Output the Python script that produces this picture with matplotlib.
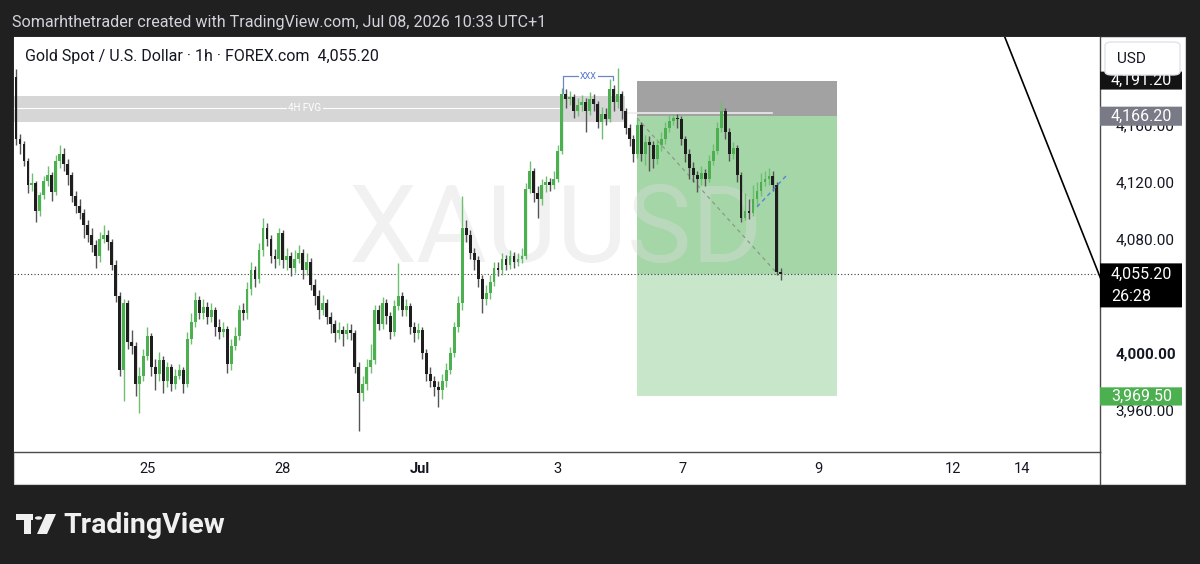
# XAUUSD 1h chart (TradingView snapshot look)

import numpy as np
import matplotlib.pyplot as plt
import matplotlib.transforms as mtransforms
from matplotlib.patches import Rectangle, FancyBboxPatch, Polygon, Circle
from matplotlib.lines import Line2D

plt.rcParams['font.family'] = ['Roboto', 'DejaVu Sans']

# ==============================
# DATA
# ==============================

first_open = 4194.0

closes = [
    4150, 4147, 4135, 4118, 4119, 4100, 4111, 4121, 4125, 4113,
    4135, 4140, 4133, 4125, 4110, 4103, 4098, 4090, 4083, 4076,
    4068, 4080, 4083, 4078, 4062, 4040, 3988, 4035, 4008, 4005,
    3978, 3984, 3998, 4012, 3990, 3985, 3995, 3980, 3990, 3978,
    3984, 3988, 3978, 4010, 4022, 4037, 4028, 4032, 4025, 4030,
    4018, 4015, 4017, 3992, 4005, 4012, 4030, 4028, 4045, 4058,
    4052, 4072, 4088, 4080, 4068, 4066, 4084, 4065, 4068, 4060,
    4066, 4070, 4058, 4064, 4048, 4040, 4030, 4035, 4025, 4020,
    4014, 4016, 4013, 4016, 4014, 3990, 3972, 3978, 3990, 3995,
    4030, 4020, 4035, 4026, 4015, 4033, 4040, 4030, 4033, 4018,
    4014, 4016, 4000, 3985, 3980, 3976, 3974, 3980, 3988, 4000,
    4018, 4035, 4088, 4083, 4070, 4065, 4052, 4038, 4042, 4050,
    4060, 4058, 4066, 4062, 4068, 4064, 4066, 4068, 4115, 4128,
    4112, 4108, 4118, 4120, 4118, 4122, 4142, 4182, 4178, 4180,
    4170, 4174, 4176, 4170, 4178, 4175, 4162, 4168, 4164, 4185,
    4176, 4182, 4170, 4158, 4150, 4140, 4160, 4140, 4148, 4146,
    4136, 4146, 4150, 4158, 4163, 4165, 4164, 4150, 4140, 4130,
    4125, 4122, 4126, 4122, 4135, 4142, 4158, 4170, 4155, 4140,
    4144, 4125, 4095, 4100, 4098, 4108, 4114, 4120, 4122, 4124,
    4118, 4057, 4055.2,
]

highs = [
    4199, 4154, 4149, 4137, 4126, 4121, 4113, 4124, 4131, 4127,
    4139, 4146, 4144, 4136, 4127, 4114, 4108, 4101, 4093, 4088,
    4079, 4085, 4090, 4086, 4080, 4065, 4043, 4038, 4037, 4016,
    4008, 3990, 4003, 4018, 4014, 3996, 4001, 3998, 3994, 3992,
    3989, 3992, 3990, 4015, 4028, 4043, 4040, 4038, 4036, 4035,
    4032, 4024, 4022, 4019, 4010, 4018, 4034, 4035, 4050, 4064,
    4061, 4077, 4095, 4091, 4083, 4073, 4088, 4086, 4074, 4071,
    4072, 4076, 4073, 4070, 4067, 4052, 4044, 4041, 4038, 4029,
    4023, 4022, 4019, 4021, 4020, 4016, 3994, 3984, 3996, 4006,
    4034, 4034, 4039, 4038, 4029, 4037, 4063, 4043, 4038, 4035,
    4022, 4021, 4018, 4003, 3990, 3984, 3980, 3985, 3993, 4004,
    4022, 4040, 4110, 4093, 4086, 4074, 4068, 4055, 4048, 4055,
    4064, 4064, 4070, 4069, 4072, 4071, 4070, 4074, 4119, 4135,
    4130, 4117, 4122, 4124, 4123, 4128, 4146, 4186, 4185, 4184,
    4182, 4179, 4181, 4179, 4183, 4182, 4177, 4173, 4172, 4192,
    4188, 4200, 4184, 4172, 4161, 4153, 4164, 4162, 4153, 4152,
    4149, 4150, 4155, 4162, 4167, 4168, 4168, 4166, 4152, 4143,
    4134, 4128, 4131, 4129, 4139, 4147, 4162, 4177, 4172, 4158,
    4148, 4146, 4127, 4112, 4108, 4118, 4120, 4126, 4128, 4130,
    4128, 4120, 4060,
]

lows = [
    4146, 4140, 4131, 4112, 4114, 4092, 4096, 4108, 4117, 4107,
    4111, 4130, 4128, 4118, 4106, 4098, 4094, 4081, 4078, 4071,
    4060, 4064, 4077, 4072, 4058, 4036, 3984, 3966, 4003, 3999,
    3970, 3958, 3980, 3995, 3984, 3974, 3980, 3972, 3976, 3973,
    3975, 3982, 3972, 3976, 4006, 4018, 4024, 4024, 4020, 4022,
    4012, 4010, 4011, 3986, 3988, 4002, 4009, 4023, 4024, 4041,
    4046, 4049, 4068, 4075, 4063, 4060, 4062, 4060, 4058, 4054,
    4056, 4063, 4052, 4055, 4044, 4034, 4024, 4027, 4020, 4014,
    4008, 4010, 4005, 4010, 4009, 3986, 3945, 3966, 3974, 3986,
    3992, 4016, 4017, 4020, 4010, 4012, 4030, 4026, 4026, 4013,
    4008, 4010, 3996, 3980, 3976, 3970, 3962, 3968, 3976, 3985,
    3997, 4015, 4030, 4078, 4066, 4058, 4046, 4028, 4034, 4038,
    4047, 4054, 4055, 4058, 4059, 4060, 4061, 4063, 4066, 4112,
    4106, 4095, 4104, 4113, 4114, 4115, 4120, 4140, 4172, 4174,
    4165, 4166, 4170, 4155, 4167, 4170, 4158, 4150, 4160, 4162,
    4170, 4172, 4164, 4154, 4145, 4134, 4137, 4135, 4132, 4128,
    4130, 4133, 4142, 4147, 4155, 4160, 4158, 4146, 4134, 4122,
    4120, 4113, 4118, 4117, 4120, 4132, 4140, 4155, 4150, 4135,
    4136, 4120, 4092, 4093, 4094, 4096, 4104, 4110, 4117, 4118,
    4114, 4055, 4051,
]

opens = [first_open] + closes[:-1]

date_pos = [32.9, 66.8, 101.4, 135.8, 167.2, 201.3, 235.2, 252.5]
date_labels = ["25", "28", "Jul", "3", "7", "9", "12", "14"]
price_ticks = [3960, 4000, 4080, 4120, 4160]

last_price = 4055.2
countdown = "26:28"
stop_price = 4191.2
entry_price = 4166.2
target_price = 3969.5
fvg_top, fvg_mid, fvg_bottom = 4180.4, 4172.0, 4162.1

# ==============================
# FIGURE
# ==============================

W, H = 1200, 564
BG = '#202020'
TXT = '#131722'
GREEN = '#4caf50'
DOWN = '#1e1e1e'

fig = plt.figure(figsize=(W / 100, H / 100), dpi=100, facecolor=BG)


def fx(x):
    return x / W


def fy(y):
    return 1 - y / H


# white chart panel (chart + price scale + time scale)
fig.patches.append(Rectangle((fx(14), fy(484)), (1185 - 14) / W, (484 - 37) / H,
                             transform=fig.transFigure, facecolor='white',
                             edgecolor='#cfcfcf', lw=0.8, zorder=-5))

ax = fig.add_axes([fx(14), fy(452), (1100 - 14) / W, (452 - 37) / H])
ax.set_zorder(2)
ax.set_facecolor('white')
ax.set_xlim(-0.5, 272.1)
ax.set_ylim(3930.5, 4221.8)

for s in ['top', 'left']:
    ax.spines[s].set_visible(False)
ax.spines['right'].set_color('#4a4a4a')
ax.spines['bottom'].set_color('#4a4a4a')
ax.spines['right'].set_linewidth(1.0)
ax.spines['bottom'].set_linewidth(1.0)

# price scale
ax.yaxis.tick_right()
ax.set_yticks(price_ticks)
ax.set_yticklabels([f"{v:,.2f}" for v in price_ticks])
ax.tick_params(axis='y', length=0, pad=11, labelsize=11, labelcolor=TXT)
for lab, v in zip(ax.get_yticklabels(), price_ticks):
    if v % 1000 == 0:
        lab.set_fontweight('bold')

# time scale
ax.set_xticks(date_pos)
ax.set_xticklabels(date_labels)
ax.tick_params(axis='x', length=0, pad=7, labelsize=10.5, labelcolor=TXT)
for lab in ax.get_xticklabels():
    if lab.get_text() == "Jul":
        lab.set_fontweight('bold')

# vertical separator continues through time scale
fig.add_artist(Line2D([fx(1100), fx(1100)], [fy(452), fy(484)],
                      transform=fig.transFigure, color='#4a4a4a', lw=1.0))

# ==============================
# DRAWINGS
# ==============================

box_x0, box_x1 = 155.9, 206.1

# 4H FVG zone
ax.add_patch(Rectangle((-0.5, fvg_bottom), 153.4, fvg_top - fvg_bottom,
                       facecolor='#d6d6d6', edgecolor='none', zorder=1))
ax.plot([-0.5, 136.5], [fvg_mid, fvg_mid], color='white', lw=0.8, zorder=1.2)
ax.text(72.5, fvg_mid, "4H FVG", color='white', fontsize=7, ha='center',
        va='center', zorder=1.3,
        bbox=dict(facecolor='#d6d6d6', edgecolor='none', pad=1.2))
ax.plot([152.9, 189.8], [4168.4, 4168.4], color='#ececec', lw=1.2, zorder=2.2)

# long/short position tool
ax.add_patch(Rectangle((box_x0, entry_price), box_x1 - box_x0, stop_price - entry_price,
                       facecolor='#a2a2a2', edgecolor='none', zorder=1))
ax.add_patch(Rectangle((box_x0, last_price), box_x1 - box_x0, entry_price - last_price,
                       facecolor='#a5d6a7', edgecolor='none', zorder=1))
ax.add_patch(Rectangle((box_x0, target_price), box_x1 - box_x0, last_price - target_price,
                       facecolor='#c8e6c9', edgecolor='none', zorder=1))

# watermark
ax.text(135.5, 4084.9, "XAUUSD", fontsize=78, color='#dcdcdc', alpha=0.4,
        ha='center', va='center', zorder=1.5)

# current price dotted line
ax.axhline(last_price, color='#3a3a3a', lw=0.8, ls=(0, (1, 2)), zorder=2)

# dashed line from entry to last price
ax.plot([155.9, 191.0], [4164.9, 4056.0], color='#8a9a8a', lw=0.9,
        ls=(0, (3, 3)), zorder=2)

# blue dashed trend line
ax.plot([186.0, 193.5], [4102.5, 4124.9], color='#4f86d9', lw=1.0,
        ls=(0, (3, 2.5)), zorder=4)

# right diagonal trend line
ax.plot([248.2, 274.0], [4221.8, 4040.0], color='black', lw=1.2, zorder=4)

# "XXX" bracket
ax.plot([137.3, 137.3, 149.8, 149.8], [4182.5, 4194.4, 4194.4, 4191.6],
        color='#6b86c4', lw=0.9, zorder=4)
ax.text(143.6, 4194.4, "XXX", color='#4f74d0', fontsize=6.5, ha='center',
        va='center', zorder=4.1,
        bbox=dict(facecolor='white', edgecolor='none', pad=0.8))

# ==============================
# CANDLES
# ==============================

x = np.arange(len(closes))
o = np.array(opens, dtype=float)
c = np.array(closes, dtype=float)
h = np.array(highs, dtype=float)
l = np.array(lows, dtype=float)
up = c >= o

body_col = np.where(up, GREEN, DOWN)
wick_col = np.where(up, '#6fbf72', '#555555')
ax.vlines(x, l, h, colors=wick_col, lw=1.0, zorder=3)
ax.bar(x, np.maximum(np.abs(c - o), 0.9), bottom=np.minimum(o, c), width=0.72,
       color=body_col, linewidth=0, zorder=3.1)

# ==============================
# PRICE SCALE TAGS
# ==============================

tr = mtransforms.blended_transform_factory(ax.transAxes, ax.transData)
tag_w = 82 / 1086
tx = 1.0 + 11 / 1086


def tag(y0, y1, face, lines, color='white'):
    ax.add_patch(FancyBboxPatch((1.0, y0), tag_w, y1 - y0, transform=tr,
                                boxstyle='round,pad=0,rounding_size=0.004',
                                facecolor=face, edgecolor='none',
                                clip_on=False, zorder=6))
    step = (y1 - y0) / len(lines)
    for k, txt in enumerate(lines):
        ax.text(tx, y1 - step * (k + 0.5), txt, transform=tr, color=color,
                fontsize=11.5, ha='left', va='center', clip_on=False, zorder=7)


tag(stop_price - 6.3, stop_price + 6.3, '#131313', [f"{stop_price:,.2f}"])
tag(entry_price - 6.7, entry_price + 6.7, '#787b86', [f"{entry_price:,.2f}"])
tag(4032.0, 4062.9, '#000000', [f"{last_price:,.2f}", countdown])
tag(target_price - 6.4, target_price + 6.4, GREEN, [f"{target_price:,.2f}"])

# USD box
fig.add_artist(FancyBboxPatch((fx(1105), fy(75)), 75 / W, 33 / H,
                              transform=fig.transFigure,
                              boxstyle='round,pad=0,rounding_size=0.006',
                              facecolor='white', edgecolor='#e0e3eb', lw=1.0,
                              zorder=10))
fig.text(fx(1117), fy(59), "USD", color=TXT, fontsize=11, ha='left',
         va='center', zorder=11)

# ==============================
# TEXT
# ==============================

fig.text(fx(12), fy(22), "Somarhthetrader created with TradingView.com, Jul 08, 2026 10:33 UTC+1",
         color='#d1d4dc', fontsize=11.6, ha='left', va='center')
fig.text(fx(25), fy(57), "Gold Spot / U.S. Dollar · 1h · FOREX.com  4,055.20",
         color=TXT, fontsize=11.5, ha='left', va='center', zorder=11)

# TradingView logo
logo = '#f0f0f0'
fig.add_artist(Polygon([(fx(16), fy(514)), (fx(33), fy(514)), (fx(33), fy(520)),
                        (fx(16), fy(520))], closed=True, transform=fig.transFigure,
                       facecolor=logo, edgecolor='none'))
fig.add_artist(Polygon([(fx(24), fy(514)), (fx(31), fy(514)), (fx(31), fy(534)),
                        (fx(24), fy(534))], closed=True, transform=fig.transFigure,
                       facecolor=logo, edgecolor='none'))
fig.add_artist(Circle((fx(38.5), fy(518)), 3.6 / W, transform=fig.transFigure,
                      facecolor=logo, edgecolor='none'))
fig.add_artist(Polygon([(fx(46), fy(514)), (fx(56), fy(514)), (fx(47), fy(534)),
                        (fx(37), fy(534))], closed=True, transform=fig.transFigure,
                       facecolor=logo, edgecolor='none'))
fig.text(fx(63), fy(533), "TradingView", color=logo, fontsize=20.5,
         fontweight='bold', ha='left', va='baseline')

plt.savefig("out.png", dpi=100, facecolor=BG)
